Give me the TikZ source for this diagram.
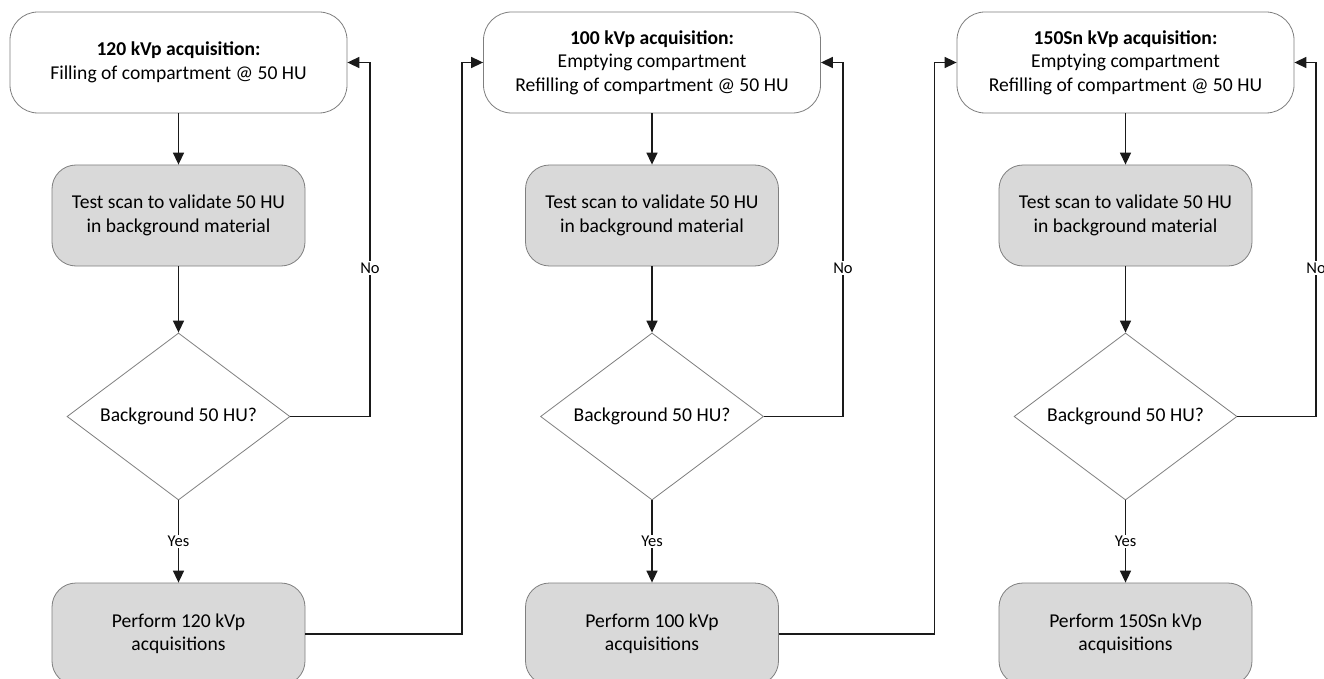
\documentclass[tikz,border=0pt]{standalone}
\usepackage{fontspec}
\setmainfont{Carlito}
\usetikzlibrary{shapes.geometric,arrows.meta,calc}
\definecolor{boxgray}{HTML}{7F7F7F}
\definecolor{fillgray}{HTML}{D9D9D9}
\definecolor{linecol}{HTML}{1A1A1A}
\begin{document}
\begin{tikzpicture}[x=1pt,y=-1pt,
  basebox/.style={draw=boxgray, line width=0.8pt, align=center, inner sep=2pt,
    font=\fontsize{19.6}{23.5}\selectfont, text=black},
  topbox/.style={basebox, fill=white, rounded corners=28pt, minimum width=337pt, minimum height=101pt},
  graybox/.style={basebox, fill=fillgray, rounded corners=24pt, minimum width=253pt, minimum height=101pt},
  perfbox/.style={graybox, minimum height=102pt},
  decbox/.style={basebox, diamond, fill=white, aspect=1.335, inner sep=0pt, minimum width=223pt, minimum height=167pt},
  arr/.style={draw=linecol, line width=1.5pt, -{Triangle[length=12pt,width=11pt]}},
  lbl/.style={fill=white, text=black, font=\fontsize{16.5}{18}\selectfont, inner sep=1.5pt}
]
\useasboundingbox (0,0) rectangle (1324,679);
\clip (0,0) rectangle (1324,679);
\fill[white] (0,0) rectangle (1324,679);

% column 1
\node[topbox] (t1) at (178.5,62.5) {\textbf{120 kVp acquisition:}\\Filling of compartment @ 50 HU};
\node[graybox] (s1) at (178.5,215.5) {Test scan to validate 50 HU\\in background material};
\node[decbox] (d1) at (178.5,416.5) {Background 50 HU?};
\node[perfbox] (p1) at (178.5,634) {Perform 120 kVp\\acquisitions};

% column 2
\node[topbox] (t2) at (652,62.5) {\textbf{100 kVp acquisition:}\\Emptying compartment\\Refilling of compartment @ 50 HU};
\node[graybox] (s2) at (652,215.5) {Test scan to validate 50 HU\\in background material};
\node[decbox] (d2) at (652,416.5) {Background 50 HU?};
\node[perfbox] (p2) at (652,634) {Perform 100 kVp\\acquisitions};

% column 3
\node[topbox] (t3) at (1125.5,62.5) {\textbf{150Sn kVp acquisition:}\\Emptying compartment\\Refilling of compartment @ 50 HU};
\node[graybox] (s3) at (1125.5,215.5) {Test scan to validate 50 HU\\in background material};
\node[decbox] (d3) at (1125.5,416.5) {Background 50 HU?};
\node[perfbox] (p3) at (1125.5,634) {Perform 150Sn kVp\\acquisitions};

% loop corners
\coordinate (n1) at (370,416.5);
\coordinate (n2) at (843,416.5);
\coordinate (n3) at (1316,416.5);
\coordinate (c12) at (462,62.5);
\coordinate (c23) at (934.5,62.5);

\foreach \i in {1,2,3}{
  \draw[arr] (t\i) -- (s\i);
  \draw[arr] (s\i) -- (d\i);
  \draw[arr] (d\i) -- node[lbl]{Yes} (p\i);
  \draw[arr] (d\i.east) -- (n\i) |- (t\i.east);
  \path (n\i) -- (n\i |- t\i.east) node[lbl, pos=0.42]{No};
}

\draw[arr] (p1.east) -| (c12) -- (t2.west);
\draw[arr] (p2.east) -| (c23) -- (t3.west);
\end{tikzpicture}
\end{document}
